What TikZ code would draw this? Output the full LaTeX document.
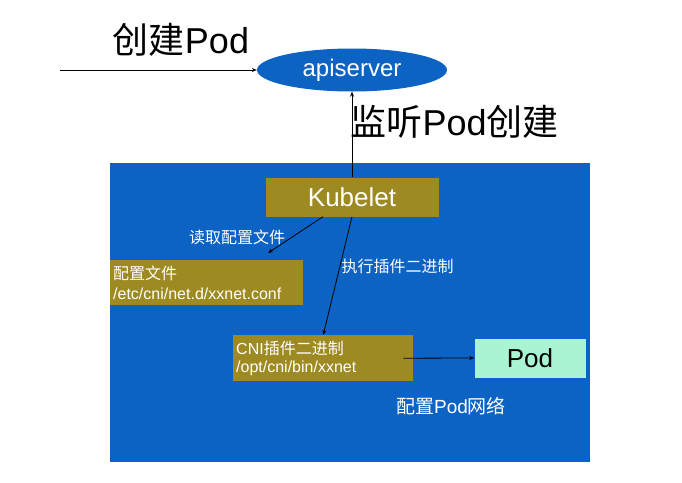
\documentclass[tikz,border=0pt]{standalone}
\usepackage{fontspec}
\setmainfont{Liberation Sans}
\newfontfamily\cjk{Noto Sans CJK SC}
\usetikzlibrary{positioning, arrows.meta, shapes.geometric}
\definecolor{nodeBlue}{HTML}{0C63C4}
\definecolor{boxOlive}{HTML}{9E8A22}
\definecolor{podGreen}{HTML}{A9F4D3}

\begin{document}
\begin{tikzpicture}[x=1pt, y=-1pt,
  bigcap/.style={font=\fontsize{36}{38}\selectfont, text=black},
  flowlabel/.style={font=\fontsize{16}{19}\selectfont, text=white},
  olivebox/.style={rectangle, fill=boxOlive, text=white, inner sep=3pt},
  filebox/.style={olivebox, align=left, anchor=north west,
    font=\fontsize{16}{20}\selectfont},
  arr/.style={-{Stealth[length=5pt, width=4pt]}, line width=0.8pt, black}
]
  %% --- pagina (unita': px del riferimento) ---
  \useasboundingbox (0,0) rectangle (682,482);
  \fill[white] (0,0) rectangle (682,482);
  \fill[nodeBlue] (110,163) rectangle (590,462);

  %% --- apiserver e richiesta in ingresso ---
  \node[ellipse, fill=nodeBlue, text=white, minimum width=190pt, minimum height=43pt,
    inner sep=0pt, font=\fontsize{24}{26}\selectfont] (apiserver) at (352,70) {apiserver};
  \node[bigcap] (createlab) at (181,40) {{\cjk 创建}Pod};
  \coordinate (userin) at (60,70);
  \draw[arr] (userin) -- (apiserver.west);

  %% --- kubelet sul nodo ---
  \node[olivebox, minimum width=173pt, minimum height=39pt,
    font=\fontsize{26}{28}\selectfont] (kubelet) at (352,197) {Kubelet};
  \draw[arr] (kubelet.north) -- (apiserver.south);
  \node[bigcap, anchor=west] (watchlab) at (347,122) {{\cjk 监听}Pod{\cjk 创建}};

  %% --- configurazione CNI ---
  \node[filebox, text width=187pt, minimum height=45pt] (conf) at (110,260)
    {{\cjk 配置文件}\\/etc/cni/net.d/xxnet.conf};
  \coordinate (confin) at (268,253);
  \draw[arr] ([xshift=-29pt]kubelet.south) -- (confin);
  \node[flowlabel] (readlab) at (237,237) {\cjk 读取配置文件};

  %% --- binario del plugin ---
  \node[filebox, text width=174pt, minimum height=46pt,
    font=\fontsize{16}{18}\selectfont] (cni) at (233,335)
    {CNI{\cjk 插件二进制}\\/opt/cni/bin/xxnet};
  \draw[arr] (kubelet.south) -- (cni.north);
  \node[flowlabel, anchor=west] (execlab) at (338,266) {\cjk 执行插件二进制};

  %% --- pod ---
  \node[rectangle, fill=podGreen, minimum width=111pt, minimum height=39pt,
    font=\fontsize{26}{28}\selectfont] (pod) at (530,358) {Pod};
  \draw[arr] ([xshift=-10pt]cni.east) -- (pod.west);
  \node[flowlabel, font=\fontsize{19}{22}\selectfont] (netlab) at (451,406)
    {{\cjk 配置}Pod{\cjk 网络}};
\end{tikzpicture}
\end{document}
